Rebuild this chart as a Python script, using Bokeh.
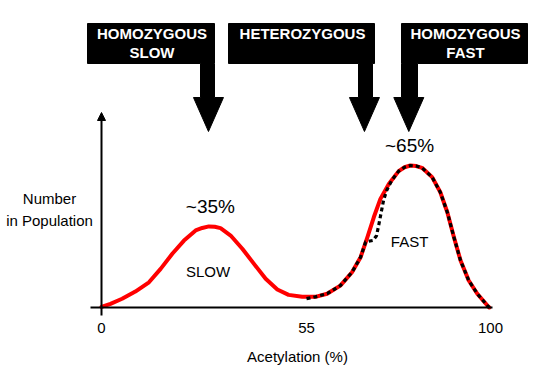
from bokeh.plotting import figure
from bokeh.models import Range1d, FixedTicker, Label, Arrow, NormalHead, LinearAxis
from bokeh.embed import file_html
from bokeh.resources import INLINE

# ---------------- data ----------------
# whole population curve (red)
acetylation = [0.0, 2.3, 5.3, 8.7, 12.2, 15.2, 18.2, 21.2, 24.2, 25.9, 27.6, 29.1, 30.6,
               33.2, 36.2, 39.2, 42.2, 45.2, 48.1, 51.6, 55.0, 58.0, 61.4, 64.4, 66.6,
               68.3, 70.0, 71.7, 73.9, 76.4, 77.9, 79.4, 80.9, 82.4, 85.0, 87.1, 88.9,
               90.6, 92.3, 94.4, 96.6, 99.2, 99.7]
population = [0.3, 1.9, 4.5, 8.2, 13.0, 19.9, 27.7, 34.5, 39.7, 41.0, 41.8, 41.6, 40.9,
              37.1, 30.3, 22.5, 14.8, 9.3, 6.5, 5.5, 5.5, 7.1, 11.3, 18.2, 25.9,
              35.9, 46.5, 56.0, 63.8, 70.3, 72.3, 73.2, 72.9, 72.0, 67.2, 59.4, 49.1,
              36.2, 24.2, 13.9, 7.1, 1.0, 0.0]

# fast acetylator curve (black dotted)
fast_acetylation = [52.7, 55.0, 58.0, 61.4, 64.4, 66.6, 67.9, 69.8, 70.7, 71.3, 71.9, 72.5,
                    73.3, 74.6, 76.4, 77.9, 79.4, 80.9, 82.4, 85.0, 87.1, 88.9, 90.6, 92.3,
                    94.4, 96.6, 99.2, 99.7]
fast_population = [4.6, 5.5, 7.1, 11.3, 18.2, 25.9, 33.8, 34.6, 37.0, 42.8, 49.0, 55.2,
                   60.3, 65.5, 70.3, 72.3, 73.2, 72.9, 72.0, 67.2, 59.4, 49.1, 36.2, 24.2,
                   13.9, 7.1, 1.0, 0.0]

# x-axis ticks (schematic axis: labels as printed)
x_tick_pos = [0, 52.7, 100]
x_tick_labels = ["0", "55", "100"]

# genotype call-outs and where their arrows point
genotype_lines = [["HOMOZYGOUS", "SLOW"], ["HETEROZYGOUS"], ["HOMOZYGOUS", "FAST"]]
genotype_target = [27.5, 67.6, 79.0]

peak_labels = ["~35%", "~65%"]
peak_x = [28.0, 79.2]
group_labels = ["SLOW", "FAST"]
group_x = [27.4, 79.2]

# ---------------- layout helpers (picture pixels -> data) ----------------
SX, SY = 3.89, 1.94          # pixels per data unit
X0PX, Y0PX = 101, 307        # picture pixel of data origin


def X(px):
    return (px - X0PX) / SX


def Y(py):
    return (Y0PX - py) / SY


FONT = "Liberation Sans"
W, H = 536, 366

p = figure(width=W, height=H, output_backend="svg", toolbar_location=None,
           x_range=Range1d(X(0), X(W)), y_range=Range1d(Y(H), Y(0)),
           x_axis_location=None, y_axis_location=None, min_border=0)
p.title.visible = False
p.grid.visible = False
p.outline_line_color = None
p.background_fill_color = "white"
p.border_fill_color = "white"

# x axis, fixed at y = 0 inside the frame
ax = LinearAxis(fixed_location=0)
ax.ticker = FixedTicker(ticks=x_tick_pos)
ax.major_label_overrides = {t: s for t, s in zip(x_tick_pos, x_tick_labels)}
ax.bounds = (X(90), X(492))
ax.axis_line_width = 2.2
ax.axis_line_color = "black"
ax.major_tick_out = 0
ax.major_tick_in = 0
ax.minor_tick_out = 0
ax.minor_tick_in = 0
ax.major_label_standoff = 15
ax.major_label_text_font = FONT
ax.major_label_text_font_size = "15px"
ax.major_label_text_color = "black"
p.add_layout(ax, "below")

# y axis as an arrow
p.add_layout(Arrow(end=NormalHead(size=8, fill_color="black", line_color="black", line_width=1),
                   x_start=0, y_start=Y(315), x_end=0, y_end=Y(112),
                   line_width=2, line_color="black"))

# curves
p.line(acetylation, population, line_color="#ff0000", line_width=4, line_join="round",
       line_cap="round")
p.line(fast_acetylation, fast_population, line_color="black", line_width=3.2,
       line_dash="4 3", line_join="round")

# call-out boxes with arrows (picture-pixel geometry relative to each target)
box_edges = [(87, 214), (228, 374), (401, 527)]
stem_edges = [(200, 214), (358, 372), (401, 417)]
BOX_TOP, BOX_BOT, HEAD_BASE, HEAD_TIP, HEAD_HALF = 23, 63, 97, 131, 15
xs, ys = [], []
for (bl, br), (sl, sr), tx in zip(box_edges, stem_edges, genotype_target):
    tpx = X0PX + tx * SX
    pts = [(bl, BOX_TOP), (br, BOX_TOP), (br, BOX_BOT), (sr, BOX_BOT), (sr, HEAD_BASE),
           (tpx + HEAD_HALF, HEAD_BASE), (tpx, HEAD_TIP), (tpx - HEAD_HALF, HEAD_BASE),
           (sl, HEAD_BASE), (sl, BOX_BOT), (bl, BOX_BOT)]
    xs.append([X(a) for a, b in pts])
    ys.append([Y(b) for a, b in pts])
p.patches(xs, ys, fill_color="black", line_color="black", line_width=1)


def label(x, ypx, text, size="15px", style="normal", color="black"):
    p.add_layout(Label(x=x, y=Y(ypx), text=text, text_align="center",
                       text_baseline="middle", text_font=FONT,
                       text_font_size=size, text_font_style=style,
                       text_color=color))


for (bl, br), lines in zip(box_edges, genotype_lines):
    cx = X((bl + br) / 2 + 1)
    for i, t in enumerate(lines):
        label(cx, 33.3 + 19 * i, t, style="bold", color="white")

# peak / group labels
for t, x, ypx in zip(peak_labels, peak_x, [206, 144.5]):
    label(x, ypx, t, size="19px")
for t, x, ypx in zip(group_labels, group_x, [271.2, 241.3]):
    label(x, ypx, t)

# axis titles
for t, ypx in zip(["Number", "in Population"], [198.3, 219.8]):
    label(X(49), ypx, t)
label(X(297), 356, "Acetylation (%)")

open("out.html", "w").write(file_html(p, INLINE))
